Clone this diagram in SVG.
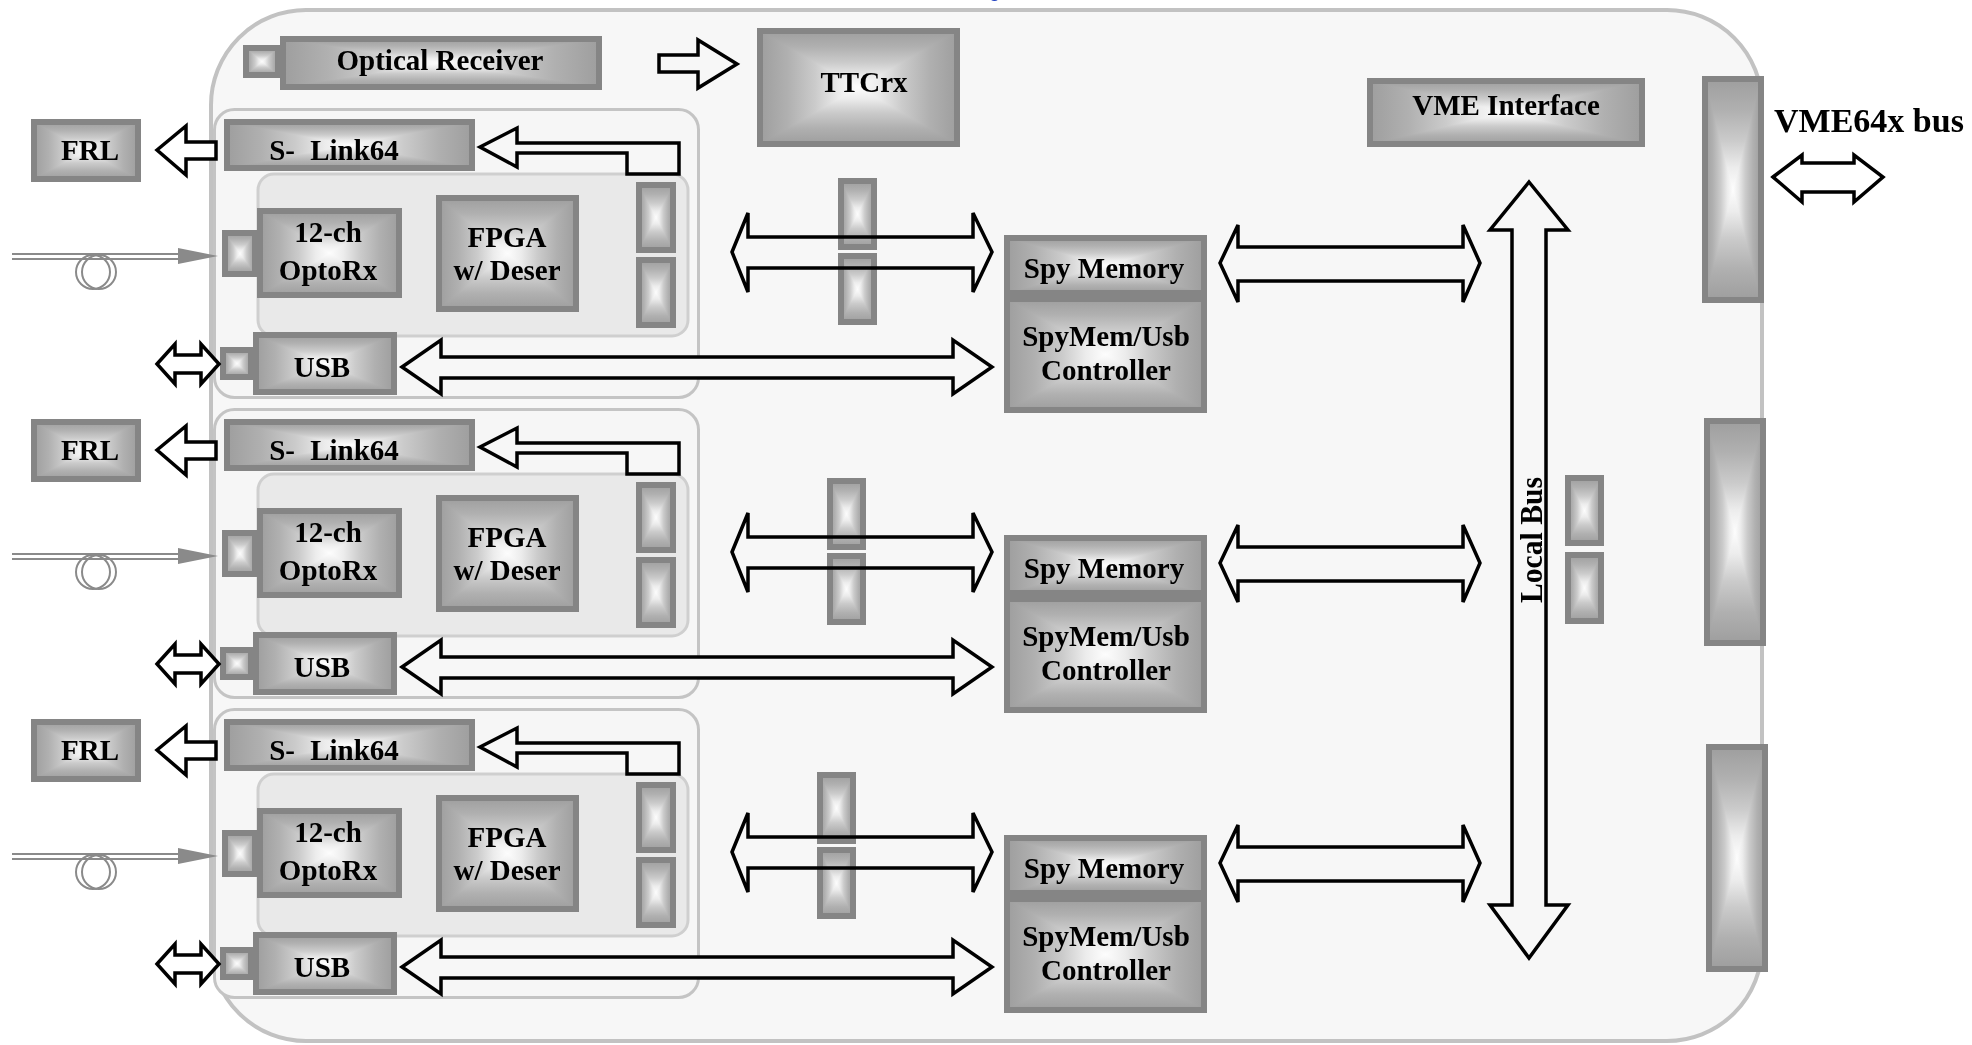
<svg xmlns="http://www.w3.org/2000/svg" width="1972" height="1045" viewBox="0 0 1972 1045">
<defs>
<linearGradient id="gh" x1="0" y1="0" x2="1" y2="0">
<stop offset="0" stop-color="#9e9e9e"/><stop offset="0.14" stop-color="#b0b0b0"/><stop offset="0.28" stop-color="#cbcbcb"/><stop offset="0.4" stop-color="#ececec"/><stop offset="0.5" stop-color="#fdfdfd"/><stop offset="0.6" stop-color="#ececec"/><stop offset="0.72" stop-color="#cbcbcb"/><stop offset="0.86" stop-color="#b0b0b0"/><stop offset="1" stop-color="#9e9e9e"/>
</linearGradient>
<linearGradient id="gv" x1="0" y1="0" x2="0" y2="1">
<stop offset="0" stop-color="#9e9e9e"/><stop offset="0.14" stop-color="#b0b0b0"/><stop offset="0.28" stop-color="#cbcbcb"/><stop offset="0.4" stop-color="#ececec"/><stop offset="0.5" stop-color="#fdfdfd"/><stop offset="0.6" stop-color="#ececec"/><stop offset="0.72" stop-color="#cbcbcb"/><stop offset="0.86" stop-color="#b0b0b0"/><stop offset="1" stop-color="#9e9e9e"/>
</linearGradient>
<style>
.f{fill:url(#gh);stroke:#858585;stroke-width:6}
.v{fill:url(#gv);mix-blend-mode:darken}
.t{font-family:"Liberation Serif","Times New Roman",serif;font-weight:bold;font-size:29px;text-anchor:middle;fill:#000}
.a{stroke:#000;stroke-width:3.5;fill:#f7f7f7;stroke-linejoin:miter}
.aw{fill:#fff}
.an{fill:none}
.grp{fill:#f6f6f6;stroke:#c4c4c4;stroke-width:3}
.inn{fill:#e9e9e9;stroke:#cfcfcf;stroke-width:3}
.fib{stroke:#8a8a8a;stroke-width:2;fill:none}
</style>
</defs>
<rect width="1972" height="1045" fill="#fff"/>
<text x="989" y="-3" font-family="Liberation Sans, Arial, sans-serif" font-size="20" fill="#2040c0">g</text>
<g id="board"><rect x="211" y="10" width="1551" height="1031" rx="95" ry="95" fill="#f7f7f7" stroke="#c2c2c2" stroke-width="4"/></g>

<g id="channel-groups">
<rect class="grp" x="214.5" y="109.5" width="484" height="288" rx="20"/>
<rect class="inn" x="258" y="174" width="430" height="162" rx="16"/>
<rect class="grp" x="214.5" y="409.5" width="484" height="288" rx="20"/>
<rect class="inn" x="258" y="474" width="430" height="162" rx="16"/>
<rect class="grp" x="214.5" y="709.5" width="484" height="288" rx="20"/>
<rect class="inn" x="258" y="774" width="430" height="162" rx="16"/>
</g>

<g id="optical-receiver-connector"><rect class="f" x="246" y="48" width="32" height="27"/><rect class="v" x="246" y="48" width="32" height="27"/></g>
<g id="optical-receiver"><rect class="f" x="283" y="39" width="316" height="48"/><rect class="v" x="283" y="39" width="316" height="48"/><text class="t" x="440" y="70">Optical Receiver</text></g>
<g id="ttcrx"><rect class="f" x="760" y="31" width="197" height="113"/><rect class="v" x="760" y="31" width="197" height="113"/><text class="t" x="864" y="92">TTCrx</text></g>
<g id="vme-interface"><rect class="f" x="1370" y="81" width="272" height="63"/><rect class="v" x="1370" y="81" width="272" height="63"/><text class="t" x="1506" y="115">VME Interface</text></g>
<g id="vme-connector-1"><rect class="f" x="1705" y="79" width="56" height="221"/><rect class="v" x="1705" y="79" width="56" height="221"/></g>
<g id="vme-connector-2"><rect class="f" x="1707" y="421" width="56" height="222"/><rect class="v" x="1707" y="421" width="56" height="222"/></g>
<g id="vme-connector-3"><rect class="f" x="1709" y="747" width="56" height="222"/><rect class="v" x="1709" y="747" width="56" height="222"/></g>
<g id="vme64x-bus-label"><text class="t" x="1774" y="132" style="text-anchor:start;font-size:34px">VME64x bus</text></g>
<g id="localbus-connector-1"><rect class="f" x="1568" y="478" width="33" height="65"/><rect class="v" x="1568" y="478" width="33" height="65"/></g>
<g id="localbus-connector-2"><rect class="f" x="1568" y="555" width="33" height="66"/><rect class="v" x="1568" y="555" width="33" height="66"/></g>

<!-- channel 1 -->
<g id="frl-1"><rect class="f" x="34" y="122" width="104" height="57"/><rect class="v" x="34" y="122" width="104" height="57"/><text class="t" x="90" y="160">FRL</text></g>
<g id="slink-1"><rect class="f" x="227" y="122" width="245" height="46"/><rect class="v" x="227" y="122" width="245" height="46"/><text class="t" x="334" y="160" style="word-spacing:8px">S- Link64</text></g>
<g id="optorx-connector-1"><rect class="f" x="225" y="233" width="30" height="41"/><rect class="v" x="225" y="233" width="30" height="41"/></g>
<g id="optorx-1"><rect class="f" x="260" y="211" width="139" height="84"/><rect class="v" x="260" y="211" width="139" height="84"/><text class="t" x="328" y="242">12-ch</text><text class="t" x="328" y="280">OptoRx</text></g>
<g id="fpga-1"><rect class="f" x="439" y="198" width="137" height="111"/><rect class="v" x="439" y="198" width="137" height="111"/><text class="t" x="507" y="247">FPGA</text><text class="t" x="507" y="280">w/ Deser</text></g>
<g id="fpga-connector-1a"><rect class="f" x="639" y="185" width="34" height="65"/><rect class="v" x="639" y="185" width="34" height="65"/></g>
<g id="fpga-connector-1b"><rect class="f" x="639" y="260" width="34" height="65"/><rect class="v" x="639" y="260" width="34" height="65"/></g>
<g id="usb-connector-1"><rect class="f" x="223" y="350" width="28" height="27"/><rect class="v" x="223" y="350" width="28" height="27"/></g>
<g id="usb-1"><rect class="f" x="256" y="335" width="138" height="57"/><rect class="v" x="256" y="335" width="138" height="57"/><text class="t" x="322" y="377">USB</text></g>
<g id="mid-connector-1a"><rect class="f" x="841" y="181" width="33" height="66"/><rect class="v" x="841" y="181" width="33" height="66"/></g>
<g id="mid-connector-1b"><rect class="f" x="841" y="256" width="33" height="66"/><rect class="v" x="841" y="256" width="33" height="66"/></g>
<g id="spy-memory-1"><rect class="f" x="1007" y="238" width="197" height="55"/><rect class="v" x="1007" y="238" width="197" height="55"/><text class="t" x="1104" y="278">Spy Memory</text></g>
<g id="controller-1"><rect class="f" x="1007" y="299" width="197" height="111"/><rect class="v" x="1007" y="299" width="197" height="111"/><text class="t" x="1106" y="346">SpyMem/Usb</text><text class="t" x="1106" y="380">Controller</text></g>

<!-- channel 2 -->
<g id="frl-2"><rect class="f" x="34" y="422" width="104" height="57"/><rect class="v" x="34" y="422" width="104" height="57"/><text class="t" x="90" y="460">FRL</text></g>
<g id="slink-2"><rect class="f" x="227" y="422" width="245" height="46"/><rect class="v" x="227" y="422" width="245" height="46"/><text class="t" x="334" y="460" style="word-spacing:8px">S- Link64</text></g>
<g id="optorx-connector-2"><rect class="f" x="225" y="533" width="30" height="41"/><rect class="v" x="225" y="533" width="30" height="41"/></g>
<g id="optorx-2"><rect class="f" x="260" y="511" width="139" height="84"/><rect class="v" x="260" y="511" width="139" height="84"/><text class="t" x="328" y="542">12-ch</text><text class="t" x="328" y="580">OptoRx</text></g>
<g id="fpga-2"><rect class="f" x="439" y="498" width="137" height="111"/><rect class="v" x="439" y="498" width="137" height="111"/><text class="t" x="507" y="547">FPGA</text><text class="t" x="507" y="580">w/ Deser</text></g>
<g id="fpga-connector-2a"><rect class="f" x="639" y="485" width="34" height="65"/><rect class="v" x="639" y="485" width="34" height="65"/></g>
<g id="fpga-connector-2b"><rect class="f" x="639" y="560" width="34" height="65"/><rect class="v" x="639" y="560" width="34" height="65"/></g>
<g id="usb-connector-2"><rect class="f" x="223" y="650" width="28" height="27"/><rect class="v" x="223" y="650" width="28" height="27"/></g>
<g id="usb-2"><rect class="f" x="256" y="635" width="138" height="57"/><rect class="v" x="256" y="635" width="138" height="57"/><text class="t" x="322" y="677">USB</text></g>
<g id="mid-connector-2a"><rect class="f" x="830" y="481" width="33" height="66"/><rect class="v" x="830" y="481" width="33" height="66"/></g>
<g id="mid-connector-2b"><rect class="f" x="830" y="556" width="33" height="66"/><rect class="v" x="830" y="556" width="33" height="66"/></g>
<g id="spy-memory-2"><rect class="f" x="1007" y="538" width="197" height="55"/><rect class="v" x="1007" y="538" width="197" height="55"/><text class="t" x="1104" y="578">Spy Memory</text></g>
<g id="controller-2"><rect class="f" x="1007" y="599" width="197" height="111"/><rect class="v" x="1007" y="599" width="197" height="111"/><text class="t" x="1106" y="646">SpyMem/Usb</text><text class="t" x="1106" y="680">Controller</text></g>

<!-- channel 3 -->
<g id="frl-3"><rect class="f" x="34" y="722" width="104" height="57"/><rect class="v" x="34" y="722" width="104" height="57"/><text class="t" x="90" y="760">FRL</text></g>
<g id="slink-3"><rect class="f" x="227" y="722" width="245" height="46"/><rect class="v" x="227" y="722" width="245" height="46"/><text class="t" x="334" y="760" style="word-spacing:8px">S- Link64</text></g>
<g id="optorx-connector-3"><rect class="f" x="225" y="833" width="30" height="41"/><rect class="v" x="225" y="833" width="30" height="41"/></g>
<g id="optorx-3"><rect class="f" x="260" y="811" width="139" height="84"/><rect class="v" x="260" y="811" width="139" height="84"/><text class="t" x="328" y="842">12-ch</text><text class="t" x="328" y="880">OptoRx</text></g>
<g id="fpga-3"><rect class="f" x="439" y="798" width="137" height="111"/><rect class="v" x="439" y="798" width="137" height="111"/><text class="t" x="507" y="847">FPGA</text><text class="t" x="507" y="880">w/ Deser</text></g>
<g id="fpga-connector-3a"><rect class="f" x="639" y="785" width="34" height="65"/><rect class="v" x="639" y="785" width="34" height="65"/></g>
<g id="fpga-connector-3b"><rect class="f" x="639" y="860" width="34" height="65"/><rect class="v" x="639" y="860" width="34" height="65"/></g>
<g id="usb-connector-3"><rect class="f" x="223" y="950" width="28" height="27"/><rect class="v" x="223" y="950" width="28" height="27"/></g>
<g id="usb-3"><rect class="f" x="256" y="935" width="138" height="57"/><rect class="v" x="256" y="935" width="138" height="57"/><text class="t" x="322" y="977">USB</text></g>
<g id="mid-connector-3a"><rect class="f" x="820" y="775" width="33" height="66"/><rect class="v" x="820" y="775" width="33" height="66"/></g>
<g id="mid-connector-3b"><rect class="f" x="820" y="850" width="33" height="66"/><rect class="v" x="820" y="850" width="33" height="66"/></g>
<g id="spy-memory-3"><rect class="f" x="1007" y="838" width="197" height="55"/><rect class="v" x="1007" y="838" width="197" height="55"/><text class="t" x="1104" y="878">Spy Memory</text></g>
<g id="controller-3"><rect class="f" x="1007" y="899" width="197" height="111"/><rect class="v" x="1007" y="899" width="197" height="111"/><text class="t" x="1106" y="946">SpyMem/Usb</text><text class="t" x="1106" y="980">Controller</text></g>

<g id="connectors">
<path class="a" d="M659,55 L698,55 L698,40 L737,64 L698,88 L698,72 L659,72 Z"/>
<path class="a aw" d="M1773,177 L1802,155 L1802,163 L1854,163 L1854,155 L1883,177 L1854,202 L1854,192 L1802,192 L1802,202 Z"/>
<path class="a" d="M1529,182 L1568,230 L1546,230 L1546,905 L1568,905 L1529,958 L1490,905 L1512,905 L1512,230 L1490,230 Z"/>
<g id="channel-1-links">
<path class="a aw" d="M157,150 L186,126 L186,142 L216,142 L216,159 L186,159 L186,175 Z"/>
<path class="a" d="M480,147 L517,128 L517,143 L679,143 L679,174 L627,174 L627,153 L517,153 L517,167 Z"/>
<path class="a aw" d="M157,364 L175,344 L175,355 L201,355 L201,344 L219,364 L201,384 L201,373 L175,373 L175,384 Z"/>
<path class="a" d="M402,367 L441,340 L441,357 L953,357 L953,340 L992,367 L953,394 L953,378 L441,378 L441,394 Z"/>
<path class="a an" d="M732,252 L748,213 L748,237 L973,237 L973,213 L992,252 L973,292 L973,268 L748,268 L748,292 Z"/>
<path class="a" d="M1220,263 L1238,225 L1238,247 L1463,247 L1463,225 L1480,263 L1463,302 L1463,281 L1238,281 L1238,302 Z"/>
<path class="fib" d="M12,254 L180,254 M12,259 L180,259"/>
<polygon points="178,248 218,256 178,264" fill="#8a8a8a"/>
<circle class="fib" cx="93" cy="272" r="17"/><circle class="fib" cx="99" cy="272" r="17"/>
</g>
<g id="channel-2-links" transform="translate(0,300)">
<path class="a aw" d="M157,150 L186,126 L186,142 L216,142 L216,159 L186,159 L186,175 Z"/>
<path class="a" d="M480,147 L517,128 L517,143 L679,143 L679,174 L627,174 L627,153 L517,153 L517,167 Z"/>
<path class="a aw" d="M157,364 L175,344 L175,355 L201,355 L201,344 L219,364 L201,384 L201,373 L175,373 L175,384 Z"/>
<path class="a" d="M402,367 L441,340 L441,357 L953,357 L953,340 L992,367 L953,394 L953,378 L441,378 L441,394 Z"/>
<path class="a an" d="M732,252 L748,213 L748,237 L973,237 L973,213 L992,252 L973,292 L973,268 L748,268 L748,292 Z"/>
<path class="a" d="M1220,263 L1238,225 L1238,247 L1463,247 L1463,225 L1480,263 L1463,302 L1463,281 L1238,281 L1238,302 Z"/>
<path class="fib" d="M12,254 L180,254 M12,259 L180,259"/>
<polygon points="178,248 218,256 178,264" fill="#8a8a8a"/>
<circle class="fib" cx="93" cy="272" r="17"/><circle class="fib" cx="99" cy="272" r="17"/>
</g>
<g id="channel-3-links" transform="translate(0,600)">
<path class="a aw" d="M157,150 L186,126 L186,142 L216,142 L216,159 L186,159 L186,175 Z"/>
<path class="a" d="M480,147 L517,128 L517,143 L679,143 L679,174 L627,174 L627,153 L517,153 L517,167 Z"/>
<path class="a aw" d="M157,364 L175,344 L175,355 L201,355 L201,344 L219,364 L201,384 L201,373 L175,373 L175,384 Z"/>
<path class="a" d="M402,367 L441,340 L441,357 L953,357 L953,340 L992,367 L953,394 L953,378 L441,378 L441,394 Z"/>
<path class="a an" d="M732,252 L748,213 L748,237 L973,237 L973,213 L992,252 L973,292 L973,268 L748,268 L748,292 Z"/>
<path class="a" d="M1220,263 L1238,225 L1238,247 L1463,247 L1463,225 L1480,263 L1463,302 L1463,281 L1238,281 L1238,302 Z"/>
<path class="fib" d="M12,254 L180,254 M12,259 L180,259"/>
<polygon points="178,248 218,256 178,264" fill="#8a8a8a"/>
<circle class="fib" cx="93" cy="272" r="17"/><circle class="fib" cx="99" cy="272" r="17"/>
</g>
</g>
<g id="local-bus-label"><text class="t" transform="translate(1542,540) rotate(-90)" x="0" y="0" style="font-size:32px" textLength="126" lengthAdjust="spacingAndGlyphs">Local Bus</text></g>
</svg>
